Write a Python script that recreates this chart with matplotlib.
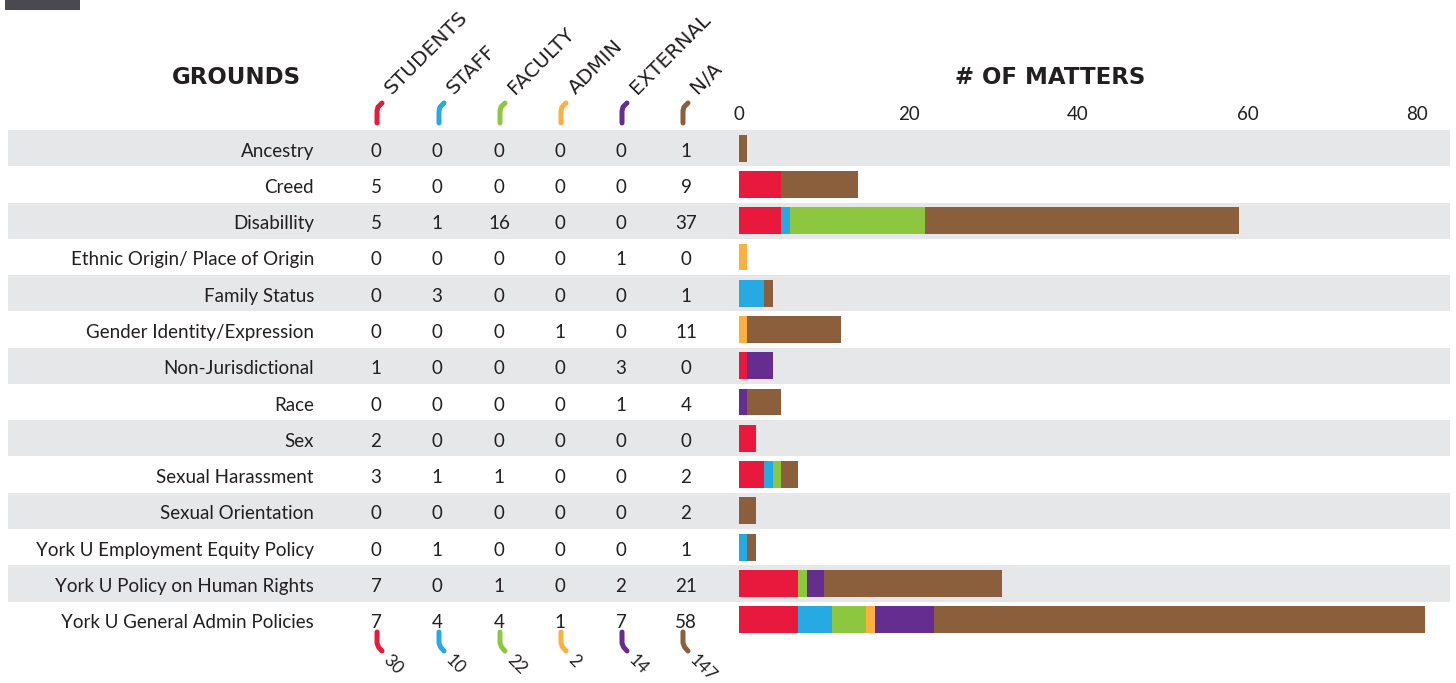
import matplotlib.pyplot as plt
import numpy as np

# ---- data ----
grounds = ['Ancestry', 'Creed', 'Disabillity', 'Ethnic Origin/ Place of Origin',
           'Family Status', 'Gender Identity/Expression', 'Non-Jurisdictional',
           'Race', 'Sex', 'Sexual Harassment', 'Sexual Orientation',
           'York U Employment Equity Policy', 'York U Policy on Human Rights',
           'York U General Admin Policies']
groups = ['STUDENTS', 'STAFF', 'FACULTY', 'ADMIN', 'EXTERNAL', 'N/A']
students = [0, 5, 5, 0, 0, 0, 1, 0, 2, 3, 0, 0, 7, 7]
staff = [0, 0, 1, 0, 3, 0, 0, 0, 0, 1, 0, 1, 0, 4]
faculty = [0, 0, 16, 0, 0, 0, 0, 0, 0, 1, 0, 0, 1, 4]
admin = [0, 0, 0, 0, 0, 1, 0, 0, 0, 0, 0, 0, 0, 1]
external = [0, 0, 0, 1, 0, 0, 3, 1, 0, 0, 0, 0, 2, 7]
na = [1, 9, 37, 0, 1, 11, 0, 4, 0, 2, 2, 1, 21, 58]
xticks = [0, 20, 40, 60, 80]

colors = ['#E8193C', '#27AAE1', '#8DC63F', '#FBB040', '#662D91', '#8B5E3C']
stripe = '#E6E7E8'
ink = '#231F20'

table = np.array([students, staff, faculty, admin, external, na])
totals = table.sum(axis=1)

# the source chart draws the Ethnic Origin case in the admin colour
bars = table.copy()
bars[3, 3], bars[4, 3] = bars[4, 3], 0

W, H = 1456, 683
fig = plt.figure(figsize=(W / 100, H / 100), dpi=100)
bg = fig.add_axes([0, 0, 1, 1])
bg.set_xlim(0, W)
bg.set_ylim(H, 0)
bg.axis('off')

body = ['Lato', 'DejaVu Sans']
n = len(grounds)
top, step = 130, 36.27

# dark tab in the corner
bg.add_patch(plt.Rectangle((5, 0), 75, 10, color='#4A4850', lw=0))

# row stripes
for i in range(0, n, 2):
    bg.add_patch(plt.Rectangle((8, top + i * step), 1442, step, color=stripe, lw=0))

col_x = [376, 437, 499, 560, 621, 686]
for i, g in enumerate(grounds):
    yc = top + (i + 0.5) * step + 3
    bg.text(314, yc, g, ha='right', va='center', fontsize=13.5, family=body, color=ink)
    for j in range(6):
        bg.text(col_x[j], yc, str(table[j, i]), ha='center', va='center',
                fontsize=13.5, family=body, color=ink)

# headings
bg.text(236, 77, 'GROUNDS', ha='center', va='center', fontsize=16.5,
        fontweight='bold', family='DejaVu Sans', color=ink)
bg.text(1050, 77, '# OF MATTERS', ha='center', va='center', fontsize=16.5,
        fontweight='bold', family='DejaVu Sans', color=ink)

# column hooks, rotated headers and totals
hook_x = [377, 439, 500, 561, 622, 683]
for j in range(6):
    x0 = hook_x[j]
    bg.plot([x0, x0, x0 + 1, x0 + 5], [123, 111, 107, 103], color=colors[j],
            lw=3.6, solid_capstyle='round', solid_joinstyle='round')
    bg.plot([x0, x0, x0 + 1.5, x0 + 5], [632, 643, 647, 651], color=colors[j],
            lw=3.6, solid_capstyle='round', solid_joinstyle='round')
    bg.text(x0 + 15, 95, groups[j], rotation=45, rotation_mode='anchor',
            ha='left', va='baseline', fontsize=14.5, family='DejaVu Sans',
            color=ink)
    bg.text(x0 + 15, 652, str(totals[j]), rotation=-45, rotation_mode='anchor',
            ha='left', va='top', fontsize=12.5, family=body, color=ink)

# stacked bars
x0px, x80px = 739, 1417
ax = fig.add_axes([x0px / W, 1 - (top + n * step) / H, (x80px - x0px) / W, n * step / H])
ax.patch.set_alpha(0)
y = np.arange(n)
left = np.zeros(n)
for j in range(6):
    ax.barh(y, bars[j], left=left, height=0.74, color=colors[j], lw=0, clip_on=False)
    left += bars[j]
ax.set_xlim(0, 80)
ax.set_ylim(n - 0.5, -0.5)
ax.xaxis.tick_top()
ax.set_xticks(xticks)
ax.set_xticklabels([str(t) for t in xticks], fontsize=13.5, family=body, color=ink)
ax.tick_params(axis='x', length=0, pad=5)
ax.set_yticks([])
for s in ax.spines.values():
    s.set_visible(False)

fig.savefig('out.png', dpi=100)
